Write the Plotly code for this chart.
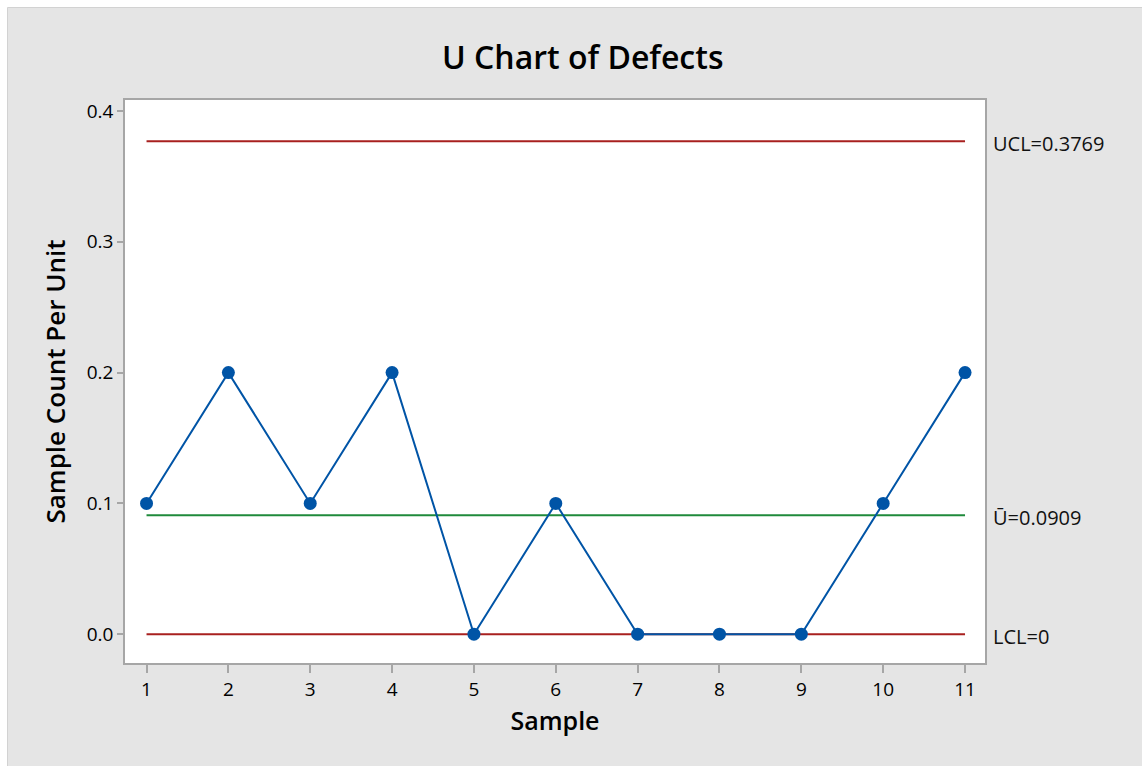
import plotly.graph_objects as go

# U chart data
samples = [1, 2, 3, 4, 5, 6, 7, 8, 9, 10, 11]
u_values = [0.1, 0.2, 0.1, 0.2, 0.0, 0.1, 0.0, 0.0, 0.0, 0.1, 0.2]
ucl = 0.3769
u_bar = 0.0909
lcl = 0.0
y_ticks = [0.0, 0.1, 0.2, 0.3, 0.4]

FONT = "Open Sans"
RED = "#a8201f"
GREEN = "#1f8a3b"
BLUE = "#0054a6"
PANEL = "#e5e5e5"

W, H = 1142, 766
L, R, T, B = 125, 157, 100, 103
pw, ph = W - L - R, H - T - B


def px_x(p):
    return (p - L) / pw


def px_y(p):
    return (H - B - p) / ph


fig = go.Figure()

# control limits and center line
for val, col in [(ucl, RED), (u_bar, GREEN), (lcl, RED)]:
    fig.add_trace(go.Scatter(
        x=[samples[0], samples[-1]], y=[val, val], mode="lines",
        line=dict(color=col, width=2), hoverinfo="skip", showlegend=False))

# sample points
fig.add_trace(go.Scatter(
    x=samples, y=u_values, mode="lines+markers",
    line=dict(color=BLUE, width=2),
    marker=dict(color=BLUE, size=13),
    showlegend=False))

# limit labels on the right side
labels = [(ucl, f"UCL={ucl}"), (u_bar, f"Ū={u_bar}"), (lcl, f"LCL={lcl:g}")]
for val, txt in labels:
    fig.add_annotation(
        x=px_x(991), xref="paper", y=val, yref="y", text=txt, showarrow=False,
        xanchor="left", yanchor="middle", yshift=-2,
        font=dict(family=FONT, size=20, color="#111111"))

# title
fig.add_annotation(
    x=px_x(582), xref="paper", y=px_y(57), yref="paper",
    text="U Chart of Defects", showarrow=False, xanchor="center", yanchor="middle",
    font=dict(family=FONT, size=32, color="#000000", weight=600))

axis_common = dict(
    showline=True, linecolor="#a6a6a6", linewidth=1.5, mirror=True,
    showgrid=False, zeroline=False, ticks="outside", tickcolor="#a6a6a6",
    tickwidth=1.5, tickfont=dict(family=FONT, size=19, color="#000000"),
)

fig.update_xaxes(
    **axis_common, range=[0.737, 11.244], tickvals=samples, ticklen=8,
    title=dict(text="Sample", font=dict(family=FONT, size=25, color="#000000", weight=600),
               standoff=12))
fig.update_yaxes(
    **axis_common, range=[-0.022, 0.4084], tickvals=y_ticks,
    ticktext=[f"{v:.1f}" for v in y_ticks], ticklen=6,
    title=dict(text="Sample Count Per Unit",
               font=dict(family=FONT, size=26, color="#000000", weight=600),
               standoff=14))

# white strips along the top and left edges, with a thin frame line
fig.add_shape(type="rect", xref="paper", yref="paper", layer="below",
              x0=px_x(-20), x1=px_x(7.5), y0=px_y(H + 20), y1=px_y(-20),
              fillcolor="#ffffff", line=dict(width=0))
fig.add_shape(type="rect", xref="paper", yref="paper", layer="below",
              x0=px_x(-20), x1=px_x(W + 20), y0=px_y(7.5), y1=px_y(-20),
              fillcolor="#ffffff", line=dict(width=0))
fig.add_shape(type="line", xref="paper", yref="paper", layer="below",
              x0=px_x(7.5), x1=px_x(W + 20), y0=px_y(7.5), y1=px_y(7.5),
              line=dict(color="#d2d2d2", width=1))
fig.add_shape(type="line", xref="paper", yref="paper", layer="below",
              x0=px_x(7.5), x1=px_x(7.5), y0=px_y(7.5), y1=px_y(H + 20),
              line=dict(color="#d2d2d2", width=1))

fig.update_layout(
    width=W, height=H, margin=dict(l=L, r=R, t=T, b=B),
    paper_bgcolor=PANEL, plot_bgcolor="#ffffff",
    font=dict(family=FONT),
)

fig.write_html("out.html")
